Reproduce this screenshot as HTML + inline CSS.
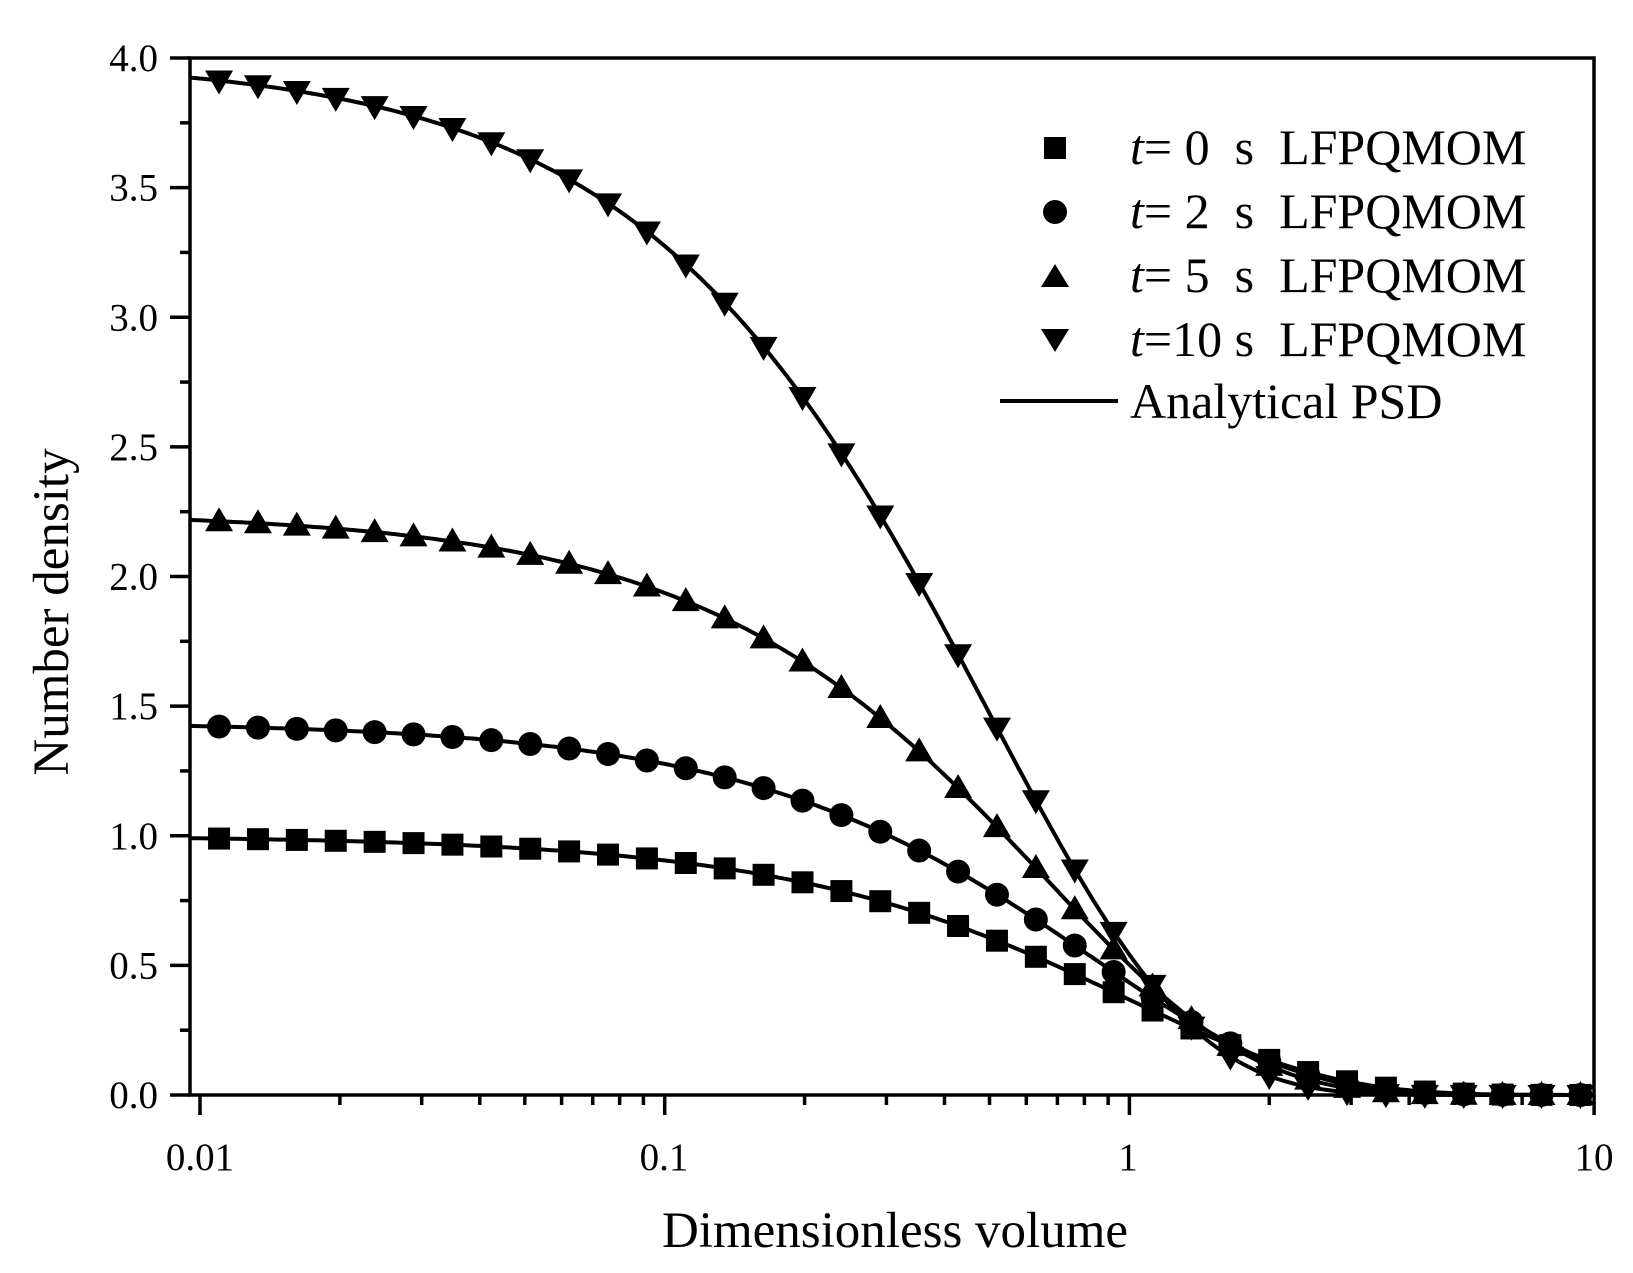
<!DOCTYPE html>
<html><head><meta charset="utf-8"><style>body{margin:0;background:#fff}svg{display:block}.pre text{white-space:pre}</style></head>
<body>
<svg id="s" width="1633" height="1273" xmlns="http://www.w3.org/2000/svg" font-family="Liberation Serif, serif">
<g id="plot"></g>
<rect x="190" y="58" width="1404" height="1037" fill="none" stroke="#000" stroke-width="3.5"/>
<g id="ticks" stroke="#000" stroke-width="3.5"></g>
<g font-size="39" text-anchor="end" id="ylab"></g>
<g font-size="39" text-anchor="middle">
<text x="200" y="1170">0.01</text><text x="664" y="1170">0.1</text><text x="1128" y="1170">1</text><text x="1594" y="1170">10</text>
</g>
<text x="895" y="1247" font-size="51" text-anchor="middle">Dimensionless volume</text>
<text transform="translate(68,612) rotate(-90)" font-size="51" text-anchor="middle">Number density</text>
<g font-size="50" class="pre">
<rect x="1044" y="137" width="22" height="22"/>
<circle cx="1055" cy="212" r="12"/>
<polygon points="1055,264 1069,287 1041,287"/>
<polygon points="1041,329 1069,329 1055,352"/>
<line x1="1000" y1="401" x2="1118" y2="401" stroke="#000" stroke-width="4"/>
<text x="1130" y="164"><tspan font-style="italic">t</tspan>= 0  s  LFPQMOM</text>
<text x="1130" y="228"><tspan font-style="italic">t</tspan>= 2  s  LFPQMOM</text>
<text x="1130" y="292"><tspan font-style="italic">t</tspan>= 5  s  LFPQMOM</text>
<text x="1130" y="356"><tspan font-style="italic">t</tspan>=10 s  LFPQMOM</text>
<text x="1130" y="418">Analytical PSD</text>
</g>
</svg>
<script>
const NS="http://www.w3.org/2000/svg";
const X=v=>200+(Math.log10(v)+2)*464.7, Y=n=>1095-n*259.25;
const P=document.getElementById('plot'),T=document.getElementById('ticks'),L=document.getElementById('ylab');
function el(t,a,p){const e=document.createElementNS(NS,t);for(const k in a)e.setAttribute(k,a[k]);p.appendChild(e);return e;}
const Bs=[1,1.2,1.5,2];
Bs.forEach((B,i)=>{
 let d="";for(let k=0;k<=300;k++){const lv=-2.0215+k*(3.0215/300);const v=Math.pow(10,lv);const n=B*B*Math.exp(-B*v);d+=(k?"L":"M")+X(v).toFixed(1)+","+Y(n).toFixed(1);}
 el('path',{d:d,fill:'none',stroke:'#000','stroke-width':4},P);
 for(let j=0;j<36;j++){const lv=-1.959+j*0.0837;const v=Math.pow(10,lv);const n=B*B*Math.exp(-B*v);const x=X(v),y=Y(n);
  if(i==0)el('rect',{x:x-11,y:y-11,width:22,height:22},P);
  else if(i==1)el('circle',{cx:x,cy:y,r:12},P);
  else if(i==2)el('polygon',{points:`${x},${y-14} ${x+14},${y+10} ${x-14},${y+10}`},P);
  else el('polygon',{points:`${x-14},${y-10} ${x+14},${y-10} ${x},${y+14}`},P);
 }
});
for(let k=0;k<=16;k++){const y=1095-k*64.8125;const maj=k%2==0;el('line',{x1:maj?170:180,y1:y,x2:190,y2:y},T);
 if(maj){const t=el('text',{x:158,y:y+13},L);t.textContent=(k/4).toFixed(1);}}
for(let d=-2;d<1;d++)for(let m=1;m<=9;m++){const v=m*Math.pow(10,d);el('line',{x1:X(v),y1:1095,x2:X(v),y2:m==1?1115:1105},T);}
el('line',{x1:X(10),y1:1095,x2:X(10),y2:1115},T);
</script>
</body></html>
